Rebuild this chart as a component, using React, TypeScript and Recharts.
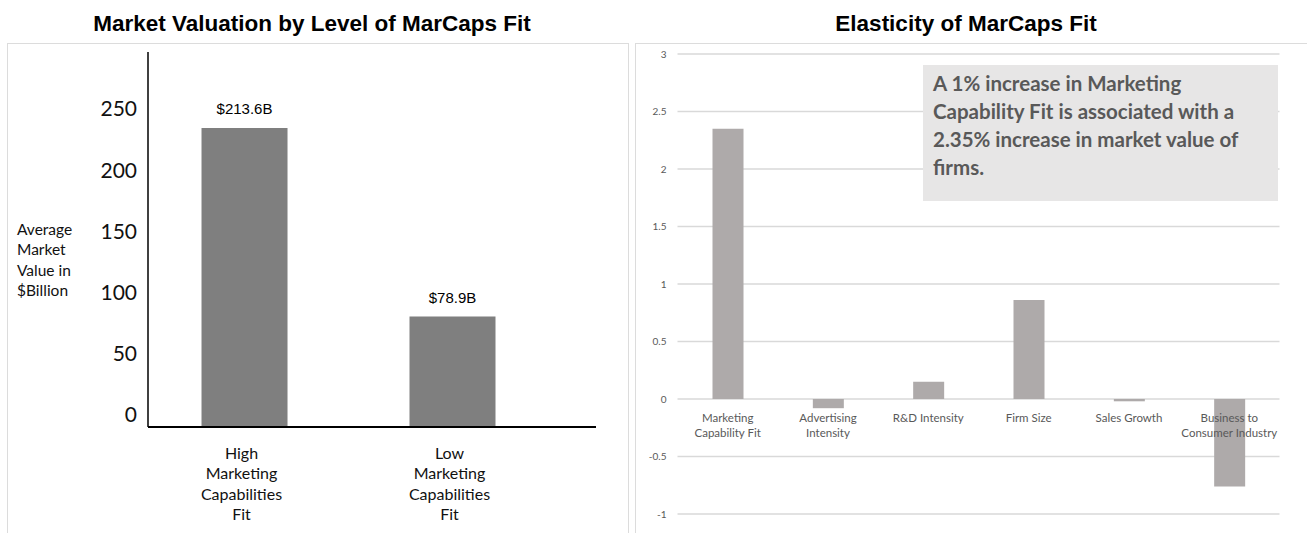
import React from 'react';
import { BarChart, Bar, XAxis, YAxis, CartesianGrid, LabelList, ReferenceDot } from 'recharts';

// Left chart: market valuation
const valuationCategories = ['High\nMarketing\nCapabilities\nFit', 'Low\nMarketing\nCapabilities\nFit'];
const valuationValues = [213.6, 78.9];
const valuationLabels = ['$213.6B', '$78.9B'];
const valuationTicks = [0, 50, 100, 150, 200, 250];

// Right chart: elasticity
const elasticityCategories = [
  'Marketing\nCapability Fit',
  'Advertising\nIntensity',
  'R&D Intensity',
  'Firm Size',
  'Sales Growth',
  'Business to\nConsumer Industry',
];
const elasticityValues = [2.35, -0.08, 0.15, 0.86, -0.02, -0.76];
const elasticityTicks = [-1, -0.5, 0, 0.5, 1, 1.5, 2, 2.5, 3];

const calibri = 'Lato, "Open Sans", sans-serif';
const arial = '"Liberation Sans", Arial, sans-serif';

const valuationData = valuationValues.map((v, i) => ({
  pos: i + 1,
  value: v,
  label: valuationLabels[i],
  name: valuationCategories[i],
}));

const elasticityData = elasticityCategories.map((c, i) => ({
  name: c,
  value: elasticityValues[i],
}));

function ValuationTick(props: any) {
  const { x, y, payload } = props;
  const idx = Math.round(payload.value) - 1;
  const lines = (valuationCategories[idx] || '').split('\n');
  return (
    <g transform={`translate(${x},${y})`}>
      {lines.map((l, i) => (
        <text
          key={i}
          x={-3}
          y={17 + i * 20.5}
          textAnchor="middle"
          dominantBaseline="central"
          fontSize={16}
          fontFamily={calibri}
          fill="#111"
        >
          {l}
        </text>
      ))}
    </g>
  );
}

function CategoryLabel(props: any) {
  const vb = props.viewBox || props;
  const lines = String(props.text).split('\n');
  return (
    <g>
      {lines.map((l, i) => (
        <text
          key={i}
          x={vb.x}
          y={vb.y + 18 + i * 15}
          textAnchor="middle"
          dominantBaseline="central"
          fontSize={11.5}
          fontFamily={calibri}
          fill="#595959"
        >
          {l}
        </text>
      ))}
    </g>
  );
}

function ValuationChart() {
  return (
    <BarChart
      width={640}
      height={533}
      data={valuationData}
      margin={{ top: 52, right: 44, left: 108, bottom: 6 }}
    >
      <XAxis
        dataKey="pos"
        type="number"
        domain={[0.536, 2.69]}
        allowDataOverflow
        ticks={[1, 2]}
        height={100}
        axisLine={{ stroke: '#000', strokeWidth: 2 }}
        tickLine={false}
        tick={<ValuationTick />}
      />
      <YAxis
        yAxisId="ticks"
        type="number"
        domain={[-9.8, 296.6]}
        allowDataOverflow
        ticks={valuationTicks}
        width={40}
        axisLine={{ stroke: '#000', strokeWidth: 1.5 }}
        tickLine={false}
        tickMargin={5}
        tick={{ fontSize: 21, fill: '#111', fontFamily: calibri }}
      />
      {/* the bars use their own scale; the slide's tick labels sit slightly off it */}
      <YAxis
        yAxisId="bars"
        orientation="right"
        type="number"
        domain={[0, 268]}
        allowDataOverflow
        hide
      />
      <Bar yAxisId="bars" dataKey="value" fill="#7f7f7f" barSize={86} isAnimationActive={false}>
        <LabelList
          dataKey="label"
          position="top"
          offset={14}
          fontSize={15}
          fontFamily={arial}
          fill="#000"
        />
      </Bar>
    </BarChart>
  );
}

function ElasticityChart() {
  return (
    <BarChart
      width={677}
      height={533}
      data={elasticityData}
      margin={{ top: 54, right: 27.5, left: 17.5, bottom: 19 }}
    >
      <CartesianGrid vertical={false} stroke="#d9d9d9" strokeWidth={1.5} />
      <XAxis dataKey="name" hide />
      <YAxis
        type="number"
        domain={[-1, 3]}
        allowDataOverflow
        ticks={elasticityTicks}
        width={30}
        axisLine={false}
        tickLine={false}
        tickMargin={5}
        tick={{ fontSize: 10, fill: '#595959', fontFamily: calibri }}
      />
      <Bar dataKey="value" fill="#aeaaaa" barSize={31} isAnimationActive={false} />
      {elasticityCategories.map((c) => (
        <ReferenceDot
          key={c}
          x={c}
          y={0}
          r={0}
          fill="none"
          stroke="none"
          label={(p: any) => <CategoryLabel {...p} text={c} />}
        />
      ))}
    </BarChart>
  );
}

export default function App() {
  return (
    <div
      style={{
        position: 'absolute',
        left: 0,
        top: 0,
        width: 1307,
        height: 533,
        overflow: 'hidden',
        background: '#fff',
      }}
    >
      {/* panel frames */}
      <div
        style={{
          position: 'absolute',
          left: 7,
          top: 43,
          width: 620,
          height: 520,
          border: '1.5px solid #dcdcdc',
        }}
      />
      <div
        style={{
          position: 'absolute',
          left: 635,
          top: 43,
          width: 690,
          height: 520,
          border: '1.5px solid #dcdcdc',
        }}
      />

      {/* titles */}
      <div
        style={{
          position: 'absolute',
          left: 0,
          top: 10,
          width: 624,
          textAlign: 'center',
          fontFamily: arial,
          fontWeight: 'bold',
          fontSize: 22.5,
          lineHeight: '28px',
          color: '#000',
        }}
      >
        Market Valuation by Level of MarCaps Fit
      </div>
      <div
        style={{
          position: 'absolute',
          left: 766,
          top: 10,
          width: 400,
          textAlign: 'center',
          fontFamily: arial,
          fontWeight: 'bold',
          fontSize: 22.5,
          lineHeight: '28px',
          color: '#000',
        }}
      >
        Elasticity of MarCaps Fit
      </div>

      <div style={{ position: 'absolute', left: 0, top: 0 }}>
        <ValuationChart />
      </div>
      <div style={{ position: 'absolute', left: 630, top: 0 }}>
        <ElasticityChart />
      </div>

      {/* y axis title of the left chart */}
      <div
        style={{
          position: 'absolute',
          left: 17,
          top: 219,
          fontFamily: calibri,
          fontSize: 15.5,
          lineHeight: '20.3px',
          color: '#111',
        }}
      >
        Average
        <br />
        Market
        <br />
        Value in
        <br />
        $Billion
      </div>

      {/* note box */}
      <div
        style={{
          position: 'absolute',
          left: 923,
          top: 65,
          width: 345,
          height: 132,
          padding: '4px 0 0 10px',
          background: '#e7e6e6',
          fontFamily: calibri,
          fontWeight: 'bold',
          fontSize: 20.5,
          lineHeight: '28px',
          color: '#595959',
          whiteSpace: 'nowrap',
        }}
      >
        A 1% increase in Marketing
        <br />
        Capability Fit is associated with a
        <br />
        2.35% increase in market value of
        <br />
        firms.
      </div>
    </div>
  );
}
